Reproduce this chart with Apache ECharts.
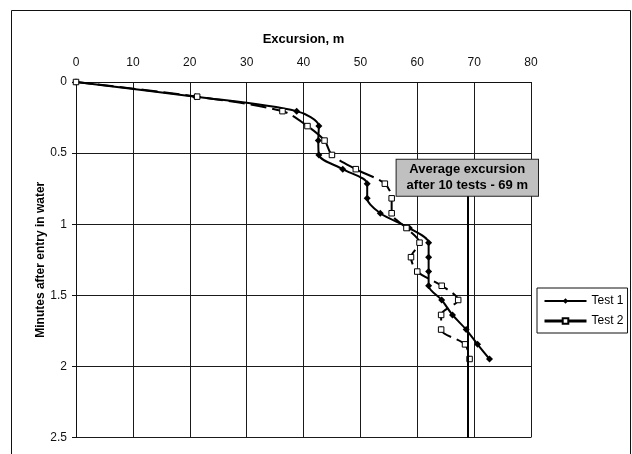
<!DOCTYPE html>
<html><head><meta charset="utf-8">
<script src="https://cdn.jsdelivr.net/npm/echarts@6/dist/echarts.min.js"></script>
<style>html,body{margin:0;padding:0;background:#fff}#c{width:632px;height:454px}</style>
</head><body><div id="c"></div>
<script>
// Minutes after entry in water (y) for each reading
const minutes = [0, 0.103, 0.205, 0.31, 0.412, 0.513, 0.613, 0.715, 0.818, 0.923, 1.027, 1.13, 1.232, 1.333, 1.433, 1.533, 1.638, 1.741, 1.845, 1.948];
// Excursion, m (x)
const test1 = [0, 21.0, 38.8, 42.7, 42.6, 42.7, 46.9, 51.2, 51.2, 53.5, 58.6, 62.0, 62.0, 62.0, 62.0, 64.3, 66.2, 68.6, 70.6, 72.7];
const test2 = [0, 21.3, 36.3, 40.7, 43.7, 45.0, 49.2, 54.3, 55.5, 55.5, 58.1, 60.4, 58.9, 60.0, 64.3, 67.2, 64.2, 64.2, 68.4, 69.2];
const seriesNames = ['Test 1', 'Test 2'];
const avgExcursion = 68.8;
const avgLineFrom = 0.8;
const avgLineTo = 2.5;
const avgText = 'Average excursion\nafter 10 tests - 69 m';

const font = 'Liberation Sans, Arial, sans-serif';
const pts = (xs) => xs.map((x, i) => [x, minutes[i]]);

const chart = echarts.init(document.getElementById('c'), null, {renderer: 'canvas'});
chart.setOption({
  animation: false,
  backgroundColor: '#fff',
  textStyle: {fontFamily: font, color: '#000'},
  graphic: [{
    type: 'rect', silent: true, z: -1,
    shape: {x: 11.5, y: 10.5, width: 619, height: 460},
    style: {fill: 'none', stroke: '#111', lineWidth: 1}
  }],
  grid: {left: 76, right: 101, top: 82, bottom: 16.5, containLabel: false},
  xAxis: {
    type: 'value', position: 'top', min: 0, max: 80, interval: 10,
    name: 'Excursion, m', nameLocation: 'middle', nameGap: 36, nameMoveOverlap: false,
    nameTextStyle: {fontFamily: font, fontSize: 13, fontWeight: 'bold', color: '#000'},
    axisLine: {show: true, lineStyle: {color: '#111', width: 1}},
    axisTick: {show: false},
    axisLabel: {fontFamily: font, fontSize: 12, color: '#111', margin: 13},
    splitLine: {show: true, lineStyle: {color: '#1a1a1a', width: 1}}
  },
  yAxis: {
    type: 'value', inverse: true, min: 0, max: 2.5, interval: 0.5,
    name: 'Minutes after entry in water', nameLocation: 'middle', nameGap: 29, nameRotate: 90,
    nameMoveOverlap: false,
    nameTextStyle: {fontFamily: font, fontSize: 12, fontWeight: 'bold', color: '#000'},
    axisLine: {show: true, lineStyle: {color: '#111', width: 1}},
    axisTick: {show: true, length: 4, inside: false, lineStyle: {color: '#111'}},
    axisLabel: {fontFamily: font, fontSize: 12, color: '#111', margin: 9},
    splitLine: {show: true, lineStyle: {color: '#1a1a1a', width: 1}}
  },
  legend: {
    orient: 'vertical', left: 537, top: 288,
    backgroundColor: '#fff', borderColor: '#111', borderWidth: 1,
    padding: [7, 4, 6, 6], itemGap: 8, itemWidth: 42, itemHeight: 7,
    textStyle: {fontFamily: font, fontSize: 12, color: '#000'},
    data: [
      {name: seriesNames[0]},
      {name: seriesNames[1], lineStyle: {type: 'solid', width: 3}}
    ]
  },
  series: [
    {
      name: seriesNames[0], type: 'line', data: pts(test1), smooth: 0.3,
      symbol: 'diamond', symbolSize: 7, showSymbol: true,
      lineStyle: {color: '#000', width: 2},
      itemStyle: {color: '#000', borderColor: '#000', borderWidth: 0},
      markLine: {
        silent: true, symbol: ['none', 'none'],
        lineStyle: {color: '#000', width: 2, type: 'solid'},
        label: {
          show: true, position: 'start', formatter: avgText, distance: 0,
          fontFamily: font, fontSize: 13, fontWeight: 'bold', color: '#000', lineHeight: 16,
          backgroundColor: '#c0c0c0', borderColor: '#222', borderWidth: 1,
          padding: [2, 10, 2, 10], align: 'center'
        },
        data: [[{coord: [avgExcursion, avgLineFrom]}, {coord: [avgExcursion, avgLineTo]}]]
      }
    },
    {
      name: seriesNames[1], type: 'line', data: pts(test2), smooth: 0.3,
      symbol: 'rect', symbolSize: 5.5, showSymbol: true,
      lineStyle: {color: '#000', width: 2, type: [16, 6]},
      itemStyle: {color: '#fff', borderColor: '#000', borderWidth: 1}
    }
  ]
});
</script></body></html>
